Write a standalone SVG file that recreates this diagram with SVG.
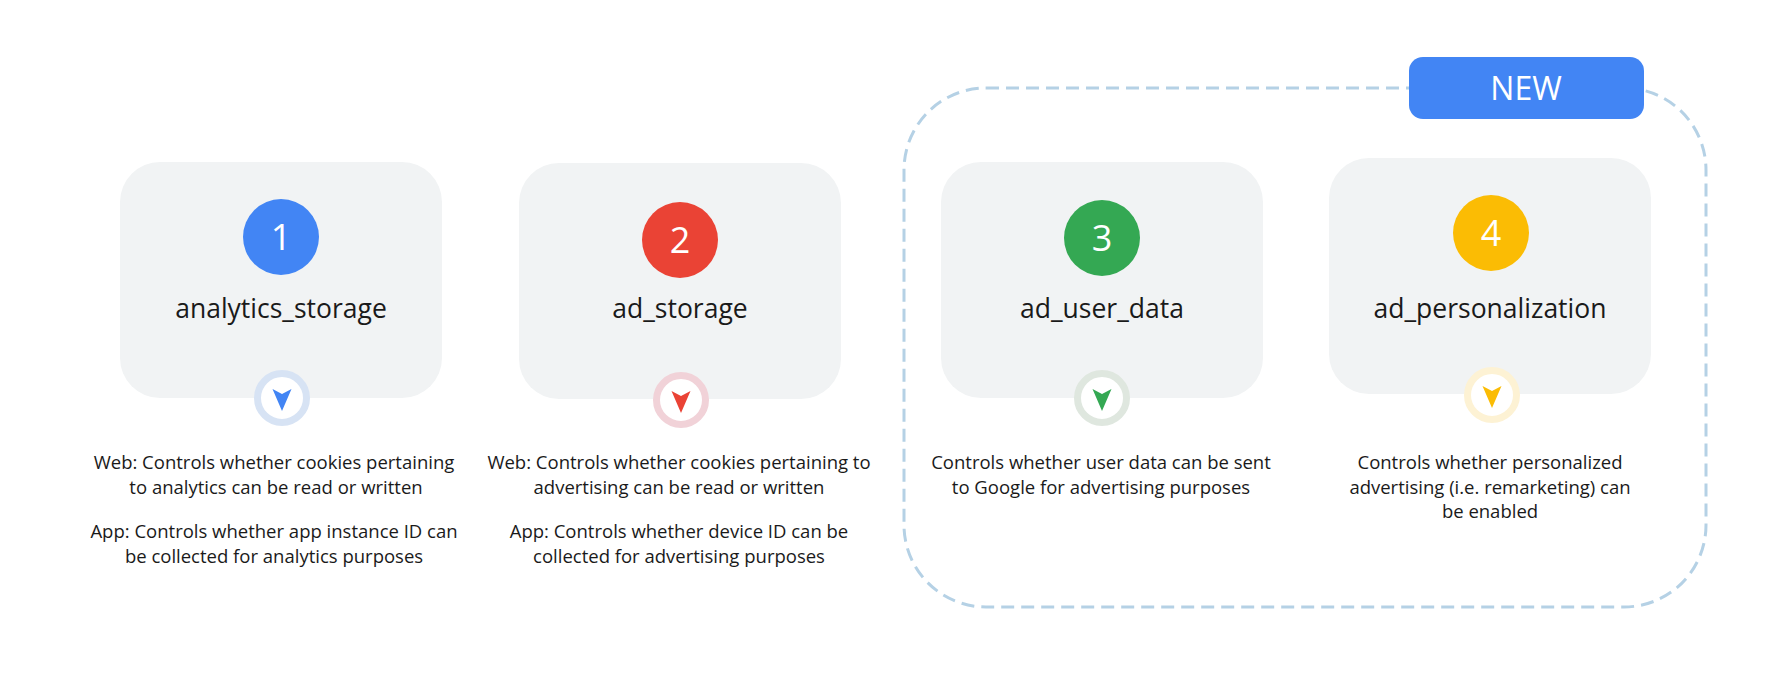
<svg xmlns="http://www.w3.org/2000/svg" width="1780" height="677" viewBox="0 0 1780 677">
<style>
.card{fill:#f1f3f4}
.num{font-family:"Open Sans",sans-serif;font-size:36px;fill:#ffffff;text-anchor:middle}
.title{font-family:"Open Sans",sans-serif;font-size:26.5px;fill:#1a1a1a;text-anchor:middle}
.desc{font-family:"Open Sans",sans-serif;font-size:18.5px;fill:#1a1a1a;text-anchor:middle}
.ring{fill:#ffffff;stroke-width:7}
.new{font-family:"Open Sans",sans-serif;font-size:32px;fill:#ffffff;text-anchor:middle}
</style>
<defs>
<path id="chev" d="M-9.5,-9 L0,-4 L9.5,-9 L0,13 Z"/>
</defs>
<rect width="1780" height="677" fill="#ffffff"/>
<g id="group-new">
<rect x="904" y="88" width="802" height="519" rx="82" fill="none" stroke="#b5d1e5" stroke-width="3" stroke-dasharray="13 7"/>
<rect x="1409" y="57" width="235" height="62" rx="14" fill="#4285f4"/>
<text class="new" x="1526" y="99.5">NEW</text>
</g>
<g id="node-analytics_storage">
<rect class="card" x="120" y="162" width="322" height="236" rx="40"/>
<circle cx="281" cy="237" r="38" fill="#4285f4"/>
<text class="num" x="281" y="250">1</text>
<text class="title" x="281" y="318">analytics_storage</text>
<circle class="ring" cx="282" cy="398" r="24.5" stroke="#d7e3f4"/>
<use href="#chev" x="282" y="398" fill="#4285f4"/>
<text class="desc" x="274" y="469">Web: Controls whether cookies pertaining</text>
<text class="desc" x="276" y="494">to analytics can be read or written</text>
<text class="desc" x="274" y="538">App: Controls whether app instance ID can</text>
<text class="desc" x="274" y="563">be collected for analytics purposes</text>
</g>
<g id="node-ad_storage">
<rect class="card" x="519" y="163" width="322" height="236" rx="40"/>
<circle cx="680" cy="240" r="38" fill="#ea4335"/>
<text class="num" x="680" y="253">2</text>
<text class="title" x="680" y="318">ad_storage</text>
<circle class="ring" cx="681" cy="400" r="24.5" stroke="#f1d2d8"/>
<use href="#chev" x="681" y="400" fill="#ea4335"/>
<text class="desc" x="679" y="469">Web: Controls whether cookies pertaining to</text>
<text class="desc" x="679" y="494">advertising can be read or written</text>
<text class="desc" x="679" y="538">App: Controls whether device ID can be</text>
<text class="desc" x="679" y="563">collected for advertising purposes</text>
</g>
<g id="node-ad_user_data">
<rect class="card" x="941" y="162" width="322" height="236" rx="40"/>
<circle cx="1102" cy="238" r="38" fill="#34a853"/>
<text class="num" x="1102" y="251">3</text>
<text class="title" x="1102" y="318">ad_user_data</text>
<circle class="ring" cx="1102" cy="398" r="24.5" stroke="#dfe7df"/>
<use href="#chev" x="1102" y="398" fill="#34a853"/>
<text class="desc" x="1101" y="469">Controls whether user data can be sent</text>
<text class="desc" x="1101" y="494">to Google for advertising purposes</text>
</g>
<g id="node-ad_personalization">
<rect class="card" x="1329" y="158" width="322" height="236" rx="40"/>
<circle cx="1491" cy="233" r="38" fill="#fbbc04"/>
<text class="num" x="1491" y="246">4</text>
<text class="title" x="1490" y="318">ad_personalization</text>
<circle class="ring" cx="1492" cy="395" r="24.5" stroke="#fdf2d4"/>
<use href="#chev" x="1492" y="395" fill="#fbbc04"/>
<text class="desc" x="1490" y="469">Controls whether personalized</text>
<text class="desc" x="1490" y="494">advertising (i.e. remarketing) can</text>
<text class="desc" x="1490" y="518">be enabled</text>
</g>
<g id="connectors"></g>
</svg>
